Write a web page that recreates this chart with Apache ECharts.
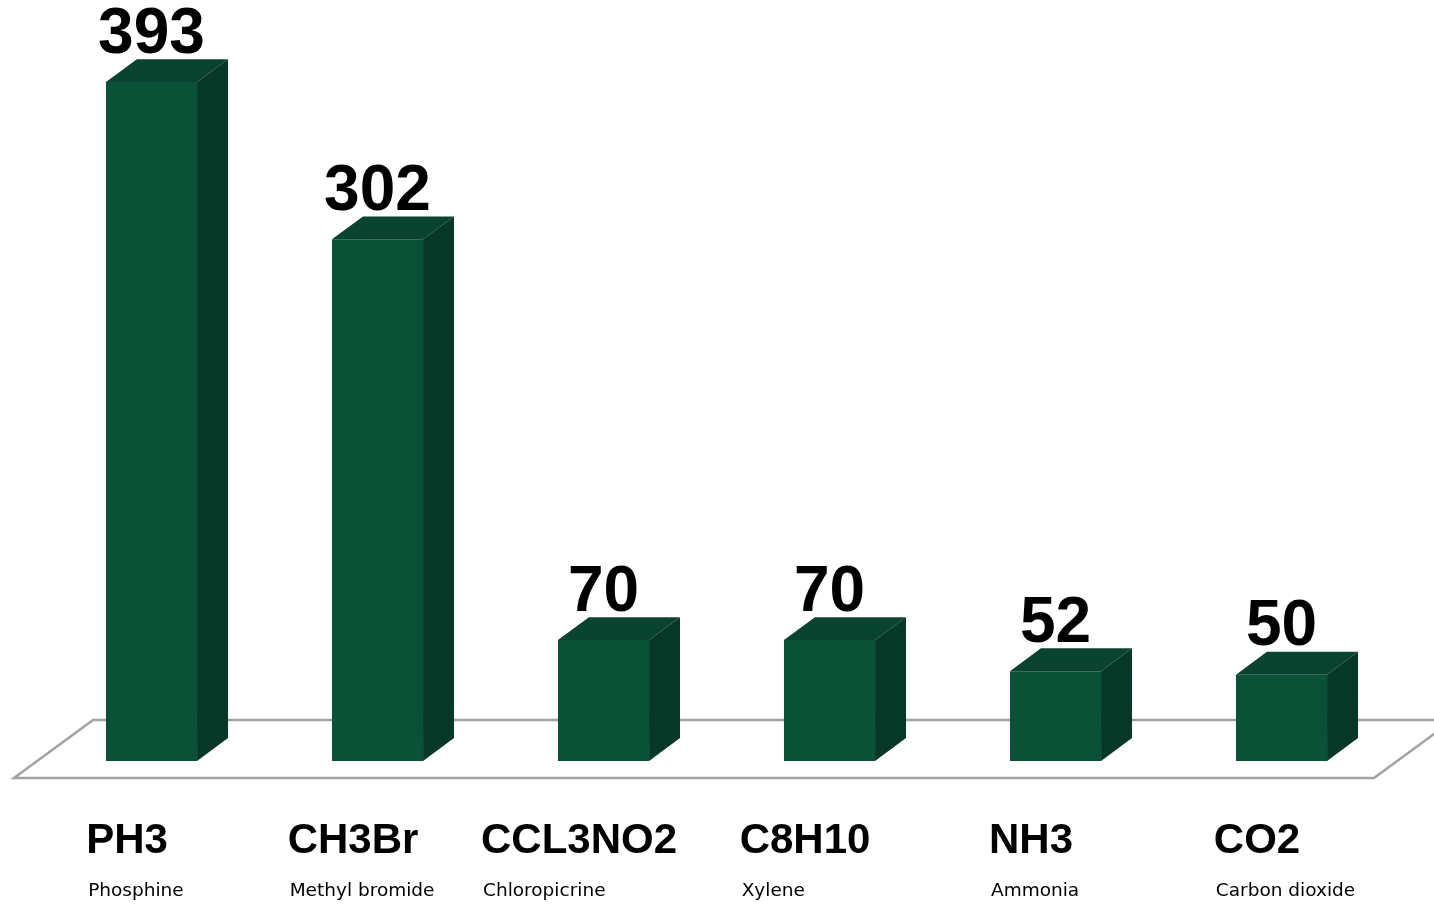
<!DOCTYPE html>
<html><head><meta charset="utf-8">
<script src="https://cdn.jsdelivr.net/npm/echarts@6/dist/echarts.min.js"></script>
<style>html,body{margin:0;padding:0;background:#fff}#c{width:1434px;height:907px}</style>
</head><body><div id="c"></div>
<script>
const formulas = ['PH3', 'CH3Br', 'CCL3NO2', 'C8H10', 'NH3', 'CO2'];
const names = ['Phosphine', 'Methyl bromide', 'Chloropicrine', 'Xylene', 'Ammonia', 'Carbon dioxide'];
const values = [393, 302, 70, 70, 52, 50];

const FRONT = '#0B5138', TOP = '#0A4330', SIDE = '#073727';
const BOLD_FONT = 'bold 42px "Liberation Sans", Arial, sans-serif';
const SUB_FONT = '18.5px "DejaVu Sans", Verdana, sans-serif';
const mctx = document.createElement('canvas').getContext('2d');
function textW(t, f) { mctx.font = f; return mctx.measureText(t).width; }

const chart = echarts.init(document.getElementById('c'), null, { renderer: 'canvas' });

function renderFloor(params, api) {
  const cs = params.coordSys;
  const y0 = api.coord([0, 0])[1];
  const fy = y0 + 17, by = y0 - 41;
  return {
    type: 'polygon',
    shape: { points: [[cs.x - 24.5, fy], [cs.x + 54.5, by], [cs.x + cs.width + 58.5, by], [cs.x + cs.width - 20.5, fy]] },
    style: { fill: null, stroke: '#A2A2A2', lineWidth: 2.5 },
    silent: true
  };
}

function renderBar(params, api) {
  const i = api.value(0), v = api.value(1);
  const base = api.coord([i, 0]);
  const top = api.coord([i, v]);
  const band = api.size([1, 0])[0];
  const w = band * 0.403;
  const dx = w * 0.34, dy = -dx * 0.74;
  const cx = base[0];
  const xl = cx - w / 2, xr = cx + w / 2;
  const yb = base[1], yt = top[1];
  const labX = cx - 24.5;
  const bw = textW(formulas[i], BOLD_FONT);
  return {
    type: 'group',
    children: [
      { type: 'rect', shape: { x: xl, y: yt, width: w, height: yb - yt }, style: { fill: FRONT } },
      { type: 'polygon', shape: { points: [[xl, yt], [xl + dx, yt + dy], [xr + dx, yt + dy], [xr, yt]] }, style: { fill: TOP } },
      { type: 'polygon', shape: { points: [[xr, yt], [xr + dx, yt + dy], [xr + dx, yb + dy], [xr, yb]] }, style: { fill: SIDE } },
      { type: 'text', x: cx, y: yt + dy + 8, style: { text: String(values[i]), font: 'bold 64px "Liberation Sans", Arial, sans-serif', fill: '#000', align: 'center', verticalAlign: 'bottom' } },
      { type: 'text', x: labX, y: 841, style: { text: formulas[i], font: BOLD_FONT, fill: '#000', align: 'center', verticalAlign: 'middle' } },
      { type: 'text', x: labX - bw / 2 + 2, y: 891, style: { text: names[i], font: SUB_FONT, fill: '#000', align: 'left', verticalAlign: 'middle' } }
    ]
  };
}

chart.setOption({
  animation: false,
  grid: { left: 38.5, right: 39.5, top: 70, bottom: 146 },
  xAxis: { type: 'category', data: formulas, show: false },
  yAxis: { type: 'value', min: 0, max: 400, show: false },
  series: [
    { type: 'custom', z: 1, clip: false, renderItem: renderFloor, data: [[0, 0]] },
    { type: 'custom', z: 2, clip: false, renderItem: renderBar, data: values.map((v, i) => [i, v]) }
  ]
});
</script></body></html>
